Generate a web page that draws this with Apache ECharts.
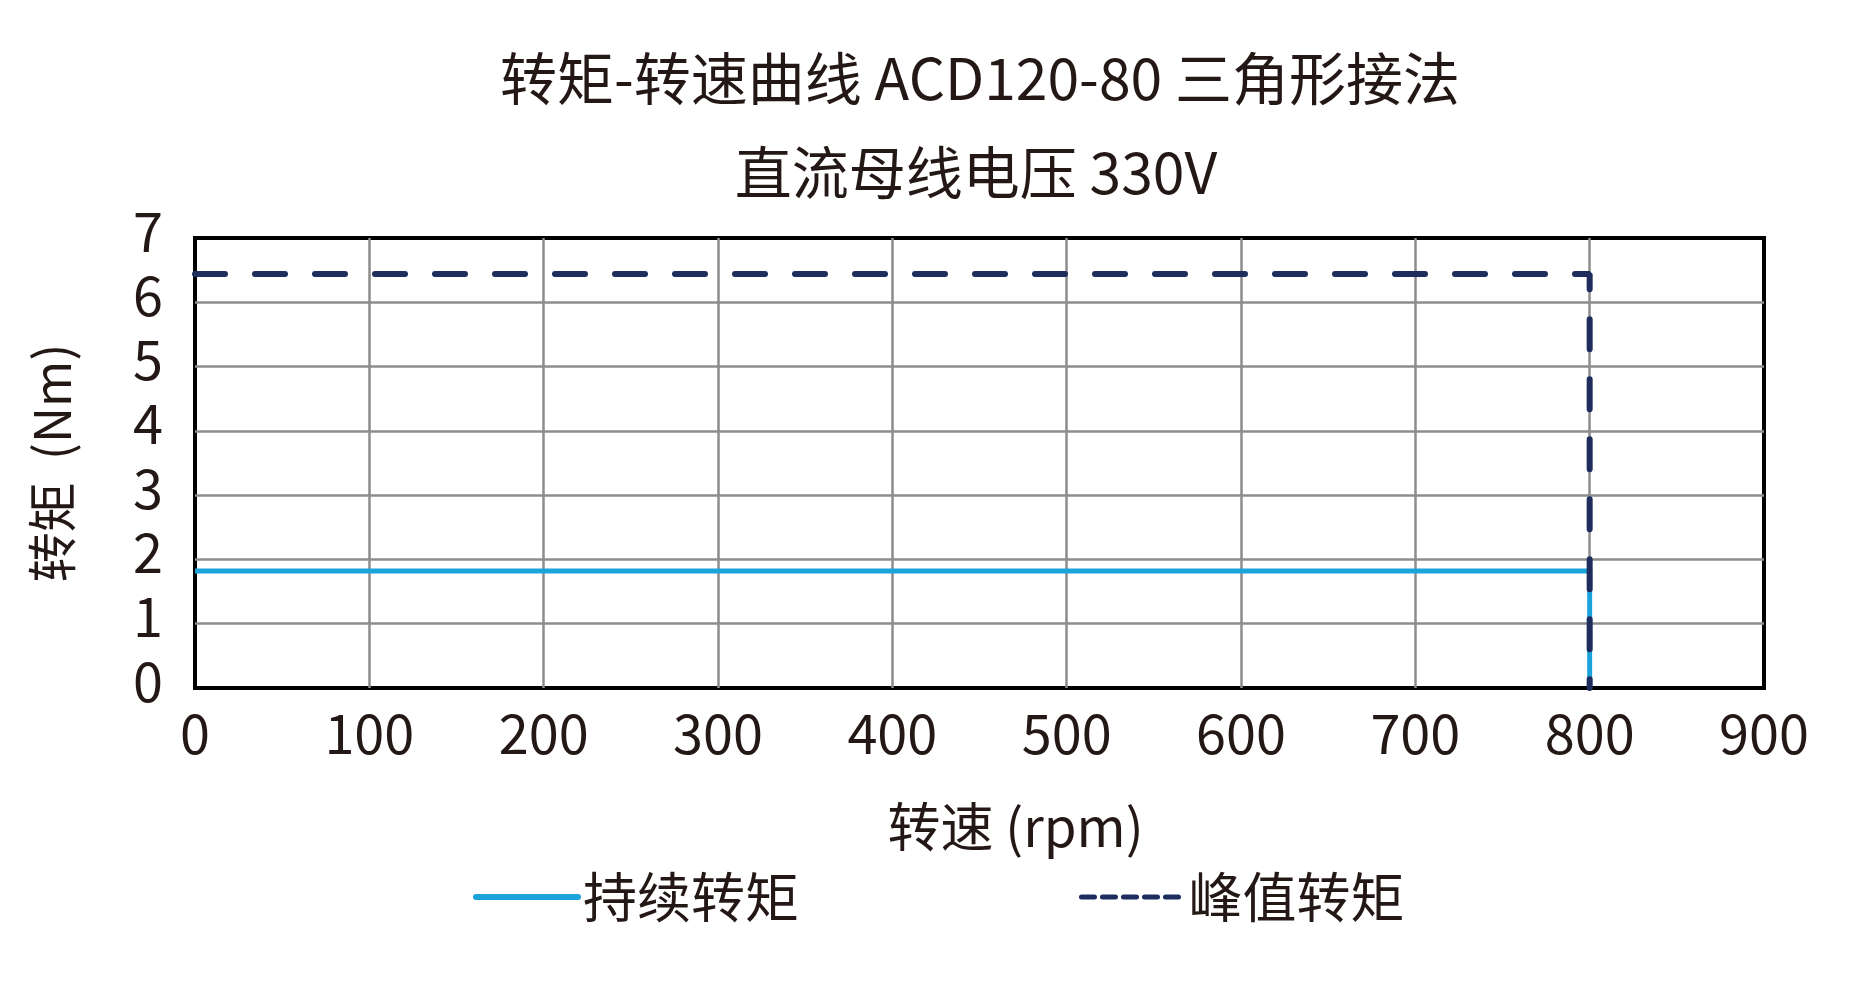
<!DOCTYPE html>
<html>
<head>
<meta charset="utf-8">
<script src="https://cdn.jsdelivr.net/npm/echarts@6/dist/echarts.min.js"></script>
<style>
html,body{margin:0;padding:0;background:#fff;}
#c{width:1858px;height:994px;}
</style>
</head>
<body>
<div id="c"></div>
<script>
const titleLine1 = '转矩-转速曲线 ACD120-80 三角形接法';
const titleLine2 = '直流母线电压 330V';
const xName = '转速 (rpm)';
const yName = '转矩  (Nm)';
const seriesNames = ['持续转矩', '峰值转矩'];
const continuousSpeed = [0, 800, 800];
const continuousTorque = [1.82, 1.82, 0];
const peakSpeed = [0, 800, 800];
const peakTorque = [6.44, 6.44, 0];
const xMin = 0, xMax = 900, xStep = 100;
const yMin = 0, yMax = 7, yStep = 1;

const FONT = '"Noto Sans CJK SC", "Noto Sans", sans-serif';
const TXT = '#231815';
const GRID = '#8c8c8c';
const T = 'rgba(0,0,0,0)';

function zip(a, b) { return a.map((v, i) => [v, b[i]]); }

const chart = echarts.init(document.getElementById('c'));
chart.setOption({
  backgroundColor: '#fff',
  animation: false,
  title: [
    { text: titleLine1, left: 975, top: 73, textAlign: 'center', textVerticalAlign: 'middle',
      textStyle: { fontFamily: FONT, fontSize: 57, fontWeight: 'normal', color: TXT } },
    { text: titleLine2, left: 971, top: 167, textAlign: 'center', textVerticalAlign: 'middle',
      textStyle: { fontFamily: FONT, fontSize: 57, fontWeight: 'normal', color: TXT } }
  ],
  grid: { left: 195, right: 94, top: 238, bottom: 306, show: true, borderColor: '#000', borderWidth: 4, backgroundColor: 'transparent' },
  legend: {
    left: 468, top: 865, itemWidth: 102, itemHeight: 20, itemGap: 280,
    textStyle: { fontFamily: FONT, fontSize: 54, color: TXT },
    data: [
      { name: seriesNames[0], itemStyle: { opacity: 0 }, lineStyle: { width: 6, type: 'solid', cap: 'round' } },
      { name: seriesNames[1], itemStyle: { opacity: 0 }, lineStyle: { width: 5, type: [13, 8], cap: 'round' } }
    ]
  },
  xAxis: {
    type: 'value', min: xMin, max: xMax, interval: xStep,
    name: xName, nameLocation: 'middle', nameGap: 112,
    nameTextStyle: { fontFamily: FONT, fontSize: 53, color: TXT, padding: [0, 0, 0, 72] },
    axisLine: { show: false }, axisTick: { show: false },
    axisLabel: { fontFamily: FONT, fontSize: 54, color: TXT, margin: 18 },
    splitLine: { show: true, lineStyle: { color: [T, GRID, GRID, GRID, GRID, GRID, GRID, GRID, GRID, T], width: 2.5 } }
  },
  yAxis: {
    type: 'value', min: yMin, max: yMax, interval: yStep,
    name: yName, nameLocation: 'middle', nameGap: 118,
    nameTextStyle: { fontFamily: FONT, fontSize: 50, color: TXT },
    axisLine: { show: false }, axisTick: { show: false },
    axisLabel: { fontFamily: FONT, fontSize: 54, color: TXT, margin: 32, verticalAlign: 'bottom', lineHeight: 14 },
    splitLine: { show: true, lineStyle: { color: [T, GRID, GRID, GRID, GRID, GRID, GRID, T], width: 2.5 } }
  },
  series: [
    { name: seriesNames[0], type: 'line', data: zip(continuousSpeed, continuousTorque), symbol: 'none',
      lineStyle: { color: '#1ba3dc', width: 5 }, itemStyle: { color: '#1ba3dc' }, z: 3 },
    { name: seriesNames[1], type: 'line', data: zip(peakSpeed, peakTorque), symbol: 'none',
      lineStyle: { color: '#1f2c5e', width: 6, type: [30, 30], cap: 'round' }, itemStyle: { color: '#1f2c5e' }, z: 4 }
  ]
});
</script>
</body>
</html>
